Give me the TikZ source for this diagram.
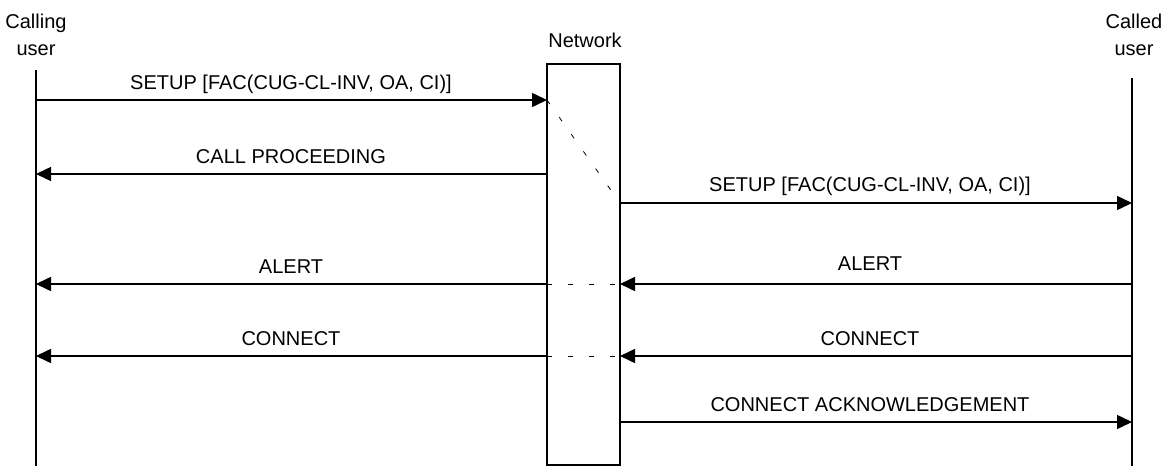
\documentclass[tikz,border=0pt]{standalone}
\usepackage{fontspec}
\setmainfont{Liberation Sans}
\usetikzlibrary{arrows.meta}
\begin{document}
\begin{tikzpicture}[x=1pt,y=-1pt,
  msg/.style={line width=1.5pt,-{Triangle[length=15pt,width=14pt]}},
  life/.style={line width=1.3pt},
  lbl/.style={font=\fontsize{20}{24}\selectfont,inner sep=0pt},
  dsh/.style={line width=0.8pt,dash pattern=on 5pt off 16pt}]
\useasboundingbox (0,0) rectangle (1165,466);
\node[lbl,align=center] (lt) at (36,35) {Calling\\[3pt]user};
\node[lbl] (nt) at (585,40) {Network};
\node[lbl,align=center] (rt) at (1134,35) {Called\\[3pt]user};
\coordinate (l0) at (36,70);
\coordinate (l1) at (36,466);
\coordinate (r0) at (1132,78);
\coordinate (r1) at (1132,466);
\draw[life] (l0) -- (l1);
\draw[life] (r0) -- (r1);
\node[draw,line width=1.3pt,minimum width=73pt,minimum height=401pt,inner sep=0pt] (net) at (583.5,264.5) {};
% message anchors
\coordinate (a1l) at (36,100); \coordinate (a1r) at (547,100);
\coordinate (a2l) at (36,174); \coordinate (a2r) at (547,174);
\coordinate (a3l) at (620,203); \coordinate (a3r) at (1132,203);
\coordinate (a4l) at (36,284); \coordinate (a4m) at (547,284); \coordinate (a4n) at (620,284); \coordinate (a4r) at (1132,284);
\coordinate (a5l) at (36,356); \coordinate (a5m) at (547,356); \coordinate (a5n) at (620,356); \coordinate (a5r) at (1132,356);
\coordinate (a6l) at (620,422); \coordinate (a6r) at (1132,422);
\draw[msg] (a1l) -- (a1r);
\node[lbl] (t1) at (291,84) {SETUP [FAC(CUG-CL-INV, OA, CI)]};
\draw[msg] (a2r) -- (a2l);
\node[lbl] (t2) at (291,157) {CALL PROCEEDING};
\draw[msg] (a3l) -- (a3r);
\node[lbl] (t3) at (870,186) {SETUP [FAC(CUG-CL-INV, OA, CI)]};
\draw[msg] (a4m) -- (a4l);
\node[lbl] (t4) at (291,267) {ALERT};
\draw[msg] (a4r) -- (a4n);
\node[lbl] (t5) at (870,264) {ALERT};
\draw[msg] (a5m) -- (a5l);
\node[lbl] (t6) at (291,339) {CONNECT};
\draw[msg] (a5r) -- (a5n);
\node[lbl] (t7) at (870,339) {CONNECT};
\draw[msg] (a6l) -- (a6r);
\node[lbl] (t8) at (870,405) {CONNECT ACKNOWLEDGEMENT};
\draw[dsh] (a1r) -- (a3l);
\draw[dsh] (a4m) -- (a4n);
\draw[dsh] (a5m) -- (a5n);
\end{tikzpicture}
\end{document}
